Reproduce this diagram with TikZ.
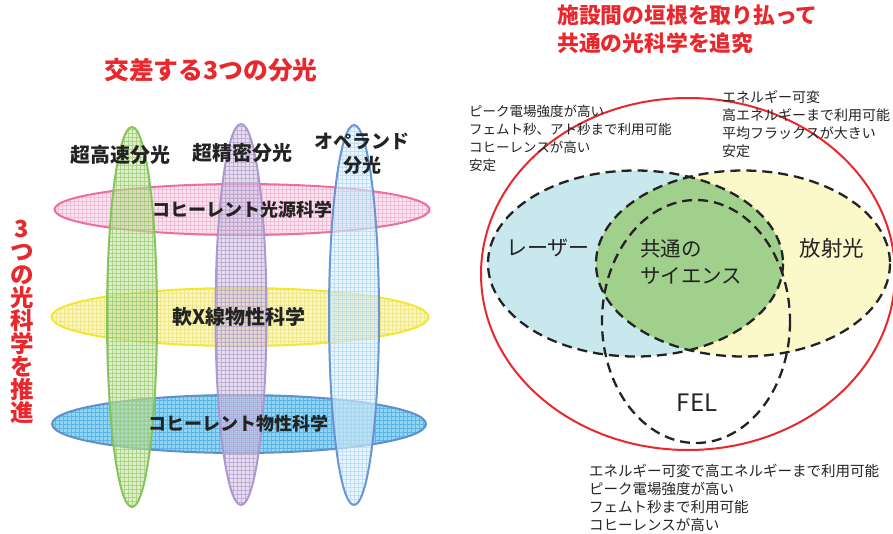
\documentclass[tikz,border=0pt]{standalone}
\usepackage{fontspec}
\newfontfamily\jp{Noto Sans CJK JP}
\usetikzlibrary{shapes.geometric}
\definecolor{tred}{RGB}{232,40,45}
\definecolor{ink}{RGB}{35,35,35}
\definecolor{gS}{RGB}{130,195,85}\definecolor{gF}{RGB}{200,228,165}\definecolor{gG}{RGB}{150,200,110}
\definecolor{pS}{RGB}{170,150,205}\definecolor{pF}{RGB}{215,200,230}\definecolor{pG}{RGB}{175,155,200}
\definecolor{bS}{RGB}{100,145,210}\definecolor{bF}{RGB}{220,238,252}\definecolor{bG}{RGB}{175,215,240}
\definecolor{kS}{RGB}{235,105,155}\definecolor{kF}{RGB}{248,222,236}\definecolor{kG}{RGB}{235,175,205}
\definecolor{yS}{RGB}{242,230,45}\definecolor{yF}{RGB}{250,246,175}\definecolor{yG}{RGB}{235,225,120}
\definecolor{cS}{RGB}{90,140,200}\definecolor{cF}{RGB}{130,205,238}\definecolor{cG}{RGB}{70,170,225}
\definecolor{laserF}{RGB}{200,232,238}
\definecolor{srF}{RGB}{251,248,202}
\definecolor{comF}{RGB}{160,208,140}
\newcommand{\setfs}[2]{\fontsize{#1}{#2}\selectfont}
\tikzset{
  gell/.style n args={4}{ellipse, inner sep=0pt, minimum width=#1, minimum height=#2,
    draw=#3S, line width=2pt, fill=#3F, fill opacity=#4, draw opacity=0.95,
    path picture={\draw[#3G, line width=0.35pt, opacity=0.7]
      (path picture bounding box.south west) grid[step=4pt] (path picture bounding box.north east);}},
  lbl/.style={font=\jp\bfseries\setfs{20}{24}, text=ink, inner sep=0pt, align=center},
  hlbl/.style={font=\jp\bfseries\setfs{18}{22}, text=ink, inner sep=0pt, align=center},
  venn/.style={draw=ink, line width=2.3pt, dash pattern=on 10pt off 6pt},
  info/.style={font=\jp\setfs{13.5}{18}, text=ink, inner sep=0pt, align=left, anchor=west},
}
\begin{document}
\begin{tikzpicture}[x=1pt,y=-1pt]
\useasboundingbox (0,0) rectangle (893,533);
% ---------- left part ----------
\node[font=\jp\bfseries\setfs{24.8}{28}, text=tred, inner sep=0pt] (ttl) at (211,70) {交差する3つの分光};
\node[font=\jp\bfseries\setfs{23.5}{23}, text=tred, inner sep=0pt, align=center] (vtx) at (22,321.5)
  {3\\つ\\の\\光\\科\\学\\を\\推\\進};
% horizontal ellipses
\node[gell={375pt}{51pt}{k}{0.85}] (hpink) at (242,209.5) {};
\node[gell={377pt}{58pt}{y}{0.85}] (hyel) at (240,317) {};
\node[gell={374pt}{58pt}{c}{0.85}] (hcyan) at (239,424) {};
% vertical ellipses
\node[gell={50pt}{380pt}{g}{0.6}] (vgreen) at (132,317) {};
\node[gell={51pt}{381pt}{p}{0.6}] (vpurple) at (241,314.5) {};
\node[gell={50pt}{380pt}{b}{0.6}] (vblue) at (354,315) {};
% labels
\node[lbl] (l1) at (120,155) {超高速分光};
\node[lbl] (l2) at (242,153) {超精密分光};
\node[lbl, font=\jp\bfseries\setfs{19}{24}] (l3) at (362,154) {オペランド\\分光};
\node[hlbl] (l4) at (242,210) {コヒーレント光源科学};
\node[hlbl, font=\jp\bfseries\setfs{20}{22}] (l5) at (239,317) {軟X線物性科学};
\node[hlbl] (l6) at (238,424) {コヒーレント物性科学};
% ---------- right part ----------
\node[font=\jp\bfseries\setfs{21.8}{28}, text=tred, inner sep=0pt, align=left, anchor=north west] (rttl) at (557,5)
  {施設間の垣根を取り払って\\共通の光科学を追究};
\fill[laserF] (635.5,263.5) ellipse [x radius=147.5, y radius=93];
\fill[srF] (743,263.5) ellipse [x radius=147, y radius=93];
\begin{scope}
  \clip (635.5,263.5) ellipse [x radius=147.5, y radius=93];
  \fill[comF] (743,263.5) ellipse [x radius=147, y radius=93];
\end{scope}
\draw[tred, line width=2pt] (688,274) ellipse [x radius=207, y radius=176];
\draw[venn] (635.5,263.5) ellipse [x radius=147.5, y radius=93];
\draw[venn] (743,263.5) ellipse [x radius=147, y radius=93];
\draw[venn] (696,321.5) ellipse [x radius=94, y radius=121.5];
\node[font=\jp\setfs{21}{22}, text=ink, inner sep=0pt] (laser) at (548,248) {レーザー};
\node[font=\jp\setfs{20.5}{27}, text=ink, inner sep=0pt, align=left, anchor=west] (common) at (640,261.5) {共通の\\サイエンス};
\node[font=\jp\setfs{21.5}{22}, text=ink, inner sep=0pt] (sr) at (832,248) {放射光};
\node[font=\jp\setfs{24}{26}, text=ink, inner sep=0pt] (fel) at (697,403) {FEL};
\node[info] (tl) at (469,138.5) {ピーク電場強度が高い\\フェムト秒、アト秒まで利用可能\\コヒーレンスが高い\\安定};
\node[info, font=\jp\setfs{14}{18}] (tr) at (722,124) {エネルギー可変\\高エネルギーまで利用可能\\平均フラックスが大きい\\安定};
\node[info, font=\jp\setfs{14.5}{18}] (bt) at (589,498) {エネルギー可変で高エネルギーまで利用可能\\ピーク電場強度が高い\\フェムト秒まで利用可能\\コヒーレンスが高い};
\end{tikzpicture}
\end{document}
